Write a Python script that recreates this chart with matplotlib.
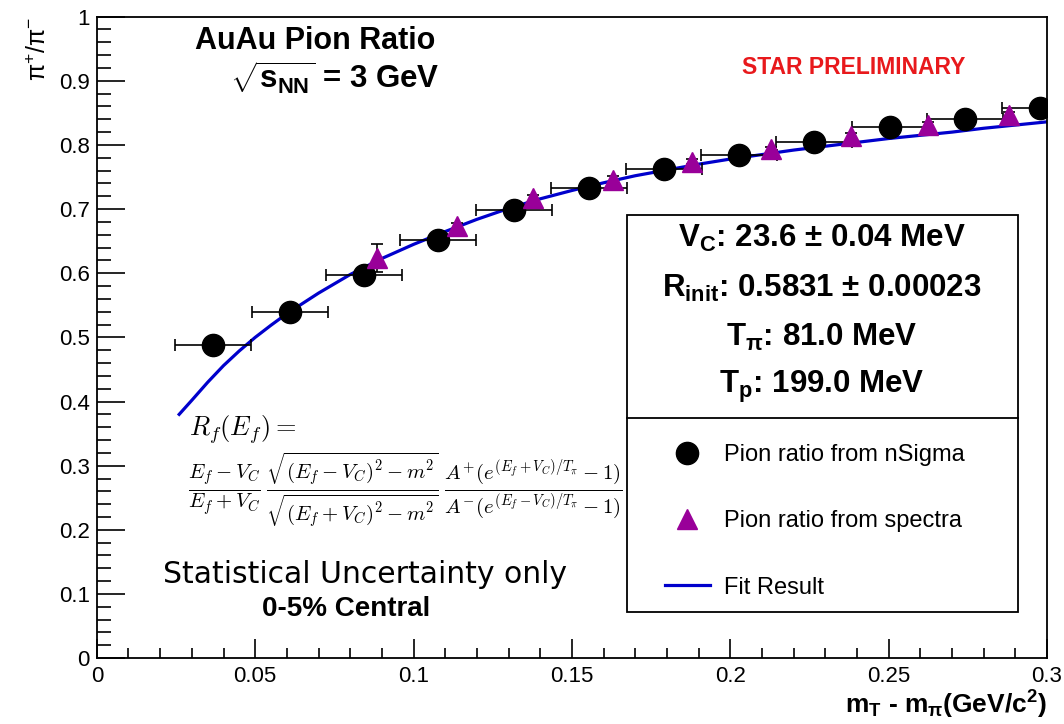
import matplotlib
matplotlib.use("Agg")
import matplotlib.pyplot as plt
from matplotlib.lines import Line2D
from matplotlib.patches import Rectangle
from matplotlib.ticker import MultipleLocator

plt.rcParams['font.family'] = ['Liberation Sans', 'DejaVu Sans']
plt.rcParams['mathtext.fontset'] = 'custom'
plt.rcParams['mathtext.rm'] = 'Liberation Sans'
plt.rcParams['mathtext.it'] = 'Liberation Sans:italic'
plt.rcParams['mathtext.bf'] = 'Liberation Sans:bold'

# pion ratio from nSigma (circles)
nsig_x = [0.0366, 0.0609, 0.0843, 0.1077, 0.1317, 0.1554, 0.1791, 0.2027, 0.2264, 0.2504, 0.2741, 0.2978]
nsig_y = [0.488, 0.540, 0.597, 0.652, 0.699, 0.733, 0.762, 0.785, 0.805, 0.8275, 0.840, 0.857]
nsig_xerr = [0.012] * 12
nsig_yerr = [0.004] * 12

# pion ratio from spectra (triangles)
spec_x = [0.0884, 0.1137, 0.1377, 0.163, 0.188, 0.213, 0.238, 0.2624, 0.288]
spec_y = [0.624, 0.673, 0.717, 0.746, 0.774, 0.793, 0.814, 0.831, 0.847]
spec_yerr = [0.022, 0.006, 0.005, 0.005, 0.004, 0.004, 0.004, 0.004, 0.004]

# fit result
fit_x = [0.026, 0.03, 0.035, 0.04, 0.045, 0.05, 0.055, 0.06, 0.07, 0.08, 0.09, 0.10,
         0.11, 0.12, 0.13, 0.14, 0.15, 0.16, 0.17, 0.18, 0.19, 0.20, 0.21, 0.22,
         0.23, 0.24, 0.25, 0.26, 0.27, 0.28, 0.29, 0.30]
fit_y = [0.380, 0.402, 0.430, 0.456, 0.479, 0.500, 0.519, 0.537, 0.569, 0.598, 0.623, 0.645,
         0.665, 0.684, 0.701, 0.716, 0.729, 0.741, 0.752, 0.761, 0.770, 0.778, 0.785, 0.792,
         0.798, 0.804, 0.810, 0.815, 0.820, 0.826, 0.831, 0.836]

stats = [r'V$_\mathbf{C}$: 23.6 ± 0.04 MeV',
         r'R$_\mathbf{init}$: 0.5831 ± 0.00023',
         r'T$_\mathbf{\pi}$: 81.0 MeV',
         r'T$_\mathbf{p}$: 199.0 MeV']

fig = plt.figure(figsize=(10.64, 7.24), dpi=100)
ax = fig.add_axes([0.091, 0.091, 0.893, 0.886])

purple = '#990099'
ax.plot(fit_x, fit_y, color='#0000cc', lw=2.3, zorder=2)
ax.errorbar(nsig_x, nsig_y, xerr=nsig_xerr, yerr=nsig_yerr, fmt='o', color='black',
            ms=16, elinewidth=1.2, capsize=4, capthick=1.2, zorder=3)
ax.errorbar(spec_x, spec_y, yerr=spec_yerr, fmt='^', color=purple, ecolor='black',
            ms=14, elinewidth=1.2, capsize=4, capthick=1.2, zorder=4)

ax.set_xlim(0, 0.3)
ax.set_ylim(0, 1)
ax.xaxis.set_minor_locator(MultipleLocator(0.01))
ax.yaxis.set_minor_locator(MultipleLocator(0.02))
ax.set_xticks([0, 0.05, 0.1, 0.15, 0.2, 0.25, 0.3])
ax.set_xticklabels(['0', '0.05', '0.1', '0.15', '0.2', '0.25', '0.3'])
ax.set_yticks([0, 0.1, 0.2, 0.3, 0.4, 0.5, 0.6, 0.7, 0.8, 0.9, 1])
ax.set_yticklabels(['0', '0.1', '0.2', '0.3', '0.4', '0.5', '0.6', '0.7', '0.8', '0.9', '1'])
ax.tick_params(axis='y', which='major', direction='in', length=20, width=1.2, labelsize=16, pad=5)
ax.tick_params(axis='y', which='minor', direction='in', length=10, width=1.2)
ax.tick_params(axis='x', which='major', direction='in', length=14, width=1.2, labelsize=16, pad=6)
ax.tick_params(axis='x', which='minor', direction='in', length=7, width=1.2)
for s in ax.spines.values():
    s.set_linewidth(1.3)

ax.set_ylabel(r'$\mathregular{\pi^{+}/\pi^{-}}$', fontsize=18, loc='top', labelpad=6)
ax.set_xlabel(r'm$_\mathbf{T}$ - m$_\mathbf{\pi}$(GeV/c$^\mathbf{2}$)', fontsize=19,
              fontweight='bold', loc='right', labelpad=1)

# titles
fig.text(0.296, 0.943, 'AuAu Pion Ratio', fontsize=22, fontweight='bold', ha='center', va='center')
fig.text(0.315, 0.892, r'$\mathbf{\sqrt{s_{NN}}}$ = 3 GeV', fontsize=22.5, fontweight='bold',
         ha='center', va='center')
fig.text(0.802, 0.907, 'STAR PRELIMINARY', fontsize=16.5, fontweight='bold', color='#e8191c',
         ha='center', va='center')

# formula
fig.text(0.178, 0.407, r'$R_f(E_f) =$', fontsize=19, math_fontfamily='cm', ha='left', va='center')
fig.text(0.177, 0.323,
         r'$\frac{E_f-V_C}{E_f+V_C}\,\frac{\sqrt{(E_f-V_C)^2-m^2}}{\sqrt{(E_f+V_C)^2-m^2}}\,'
         r'\frac{A^{+}(e^{(E_f+V_C)/T_\pi}-1)}{A^{-}(e^{(E_f-V_C)/T_\pi}-1)}$',
         fontsize=21.3, math_fontfamily='cm', ha='left', va='center')
fig.text(0.343, 0.206, 'Statistical Uncertainty only', fontsize=21.5, family='DejaVu Sans',
         ha='center', va='center')
fig.text(0.325, 0.159, '0-5% Central', fontsize=20, fontweight='bold', ha='center', va='center')

# stats + legend box
ax.add_patch(Rectangle((0.558, 0.072), 0.411, 0.619, transform=ax.transAxes, fill=False,
                       lw=1.3, ec='black', zorder=5))
ax.plot([0.558, 0.969], [0.374, 0.374], transform=ax.transAxes, color='black', lw=1.3, zorder=5)
for i, s in enumerate(stats):
    ax.text(0.763, 0.654 - i * 0.077, s, transform=ax.transAxes, fontsize=22.5, fontweight='bold',
            ha='center', va='center')

handles = [Line2D([], [], ls='none', marker='o', color='black', ms=16),
           Line2D([], [], ls='none', marker='^', color=purple, ms=14),
           Line2D([], [], color='#0000cc', lw=2.3)]
labels = ['Pion ratio from nSigma', 'Pion ratio from spectra', 'Fit Result']
ax.legend(handles, labels, loc='upper left', bbox_to_anchor=(0.598, 0.334), frameon=False,
          fontsize=17, labelspacing=1.88, handlelength=1.9, handletextpad=0.6,
          borderaxespad=0, borderpad=0)

fig.savefig('out.png', dpi=100)
